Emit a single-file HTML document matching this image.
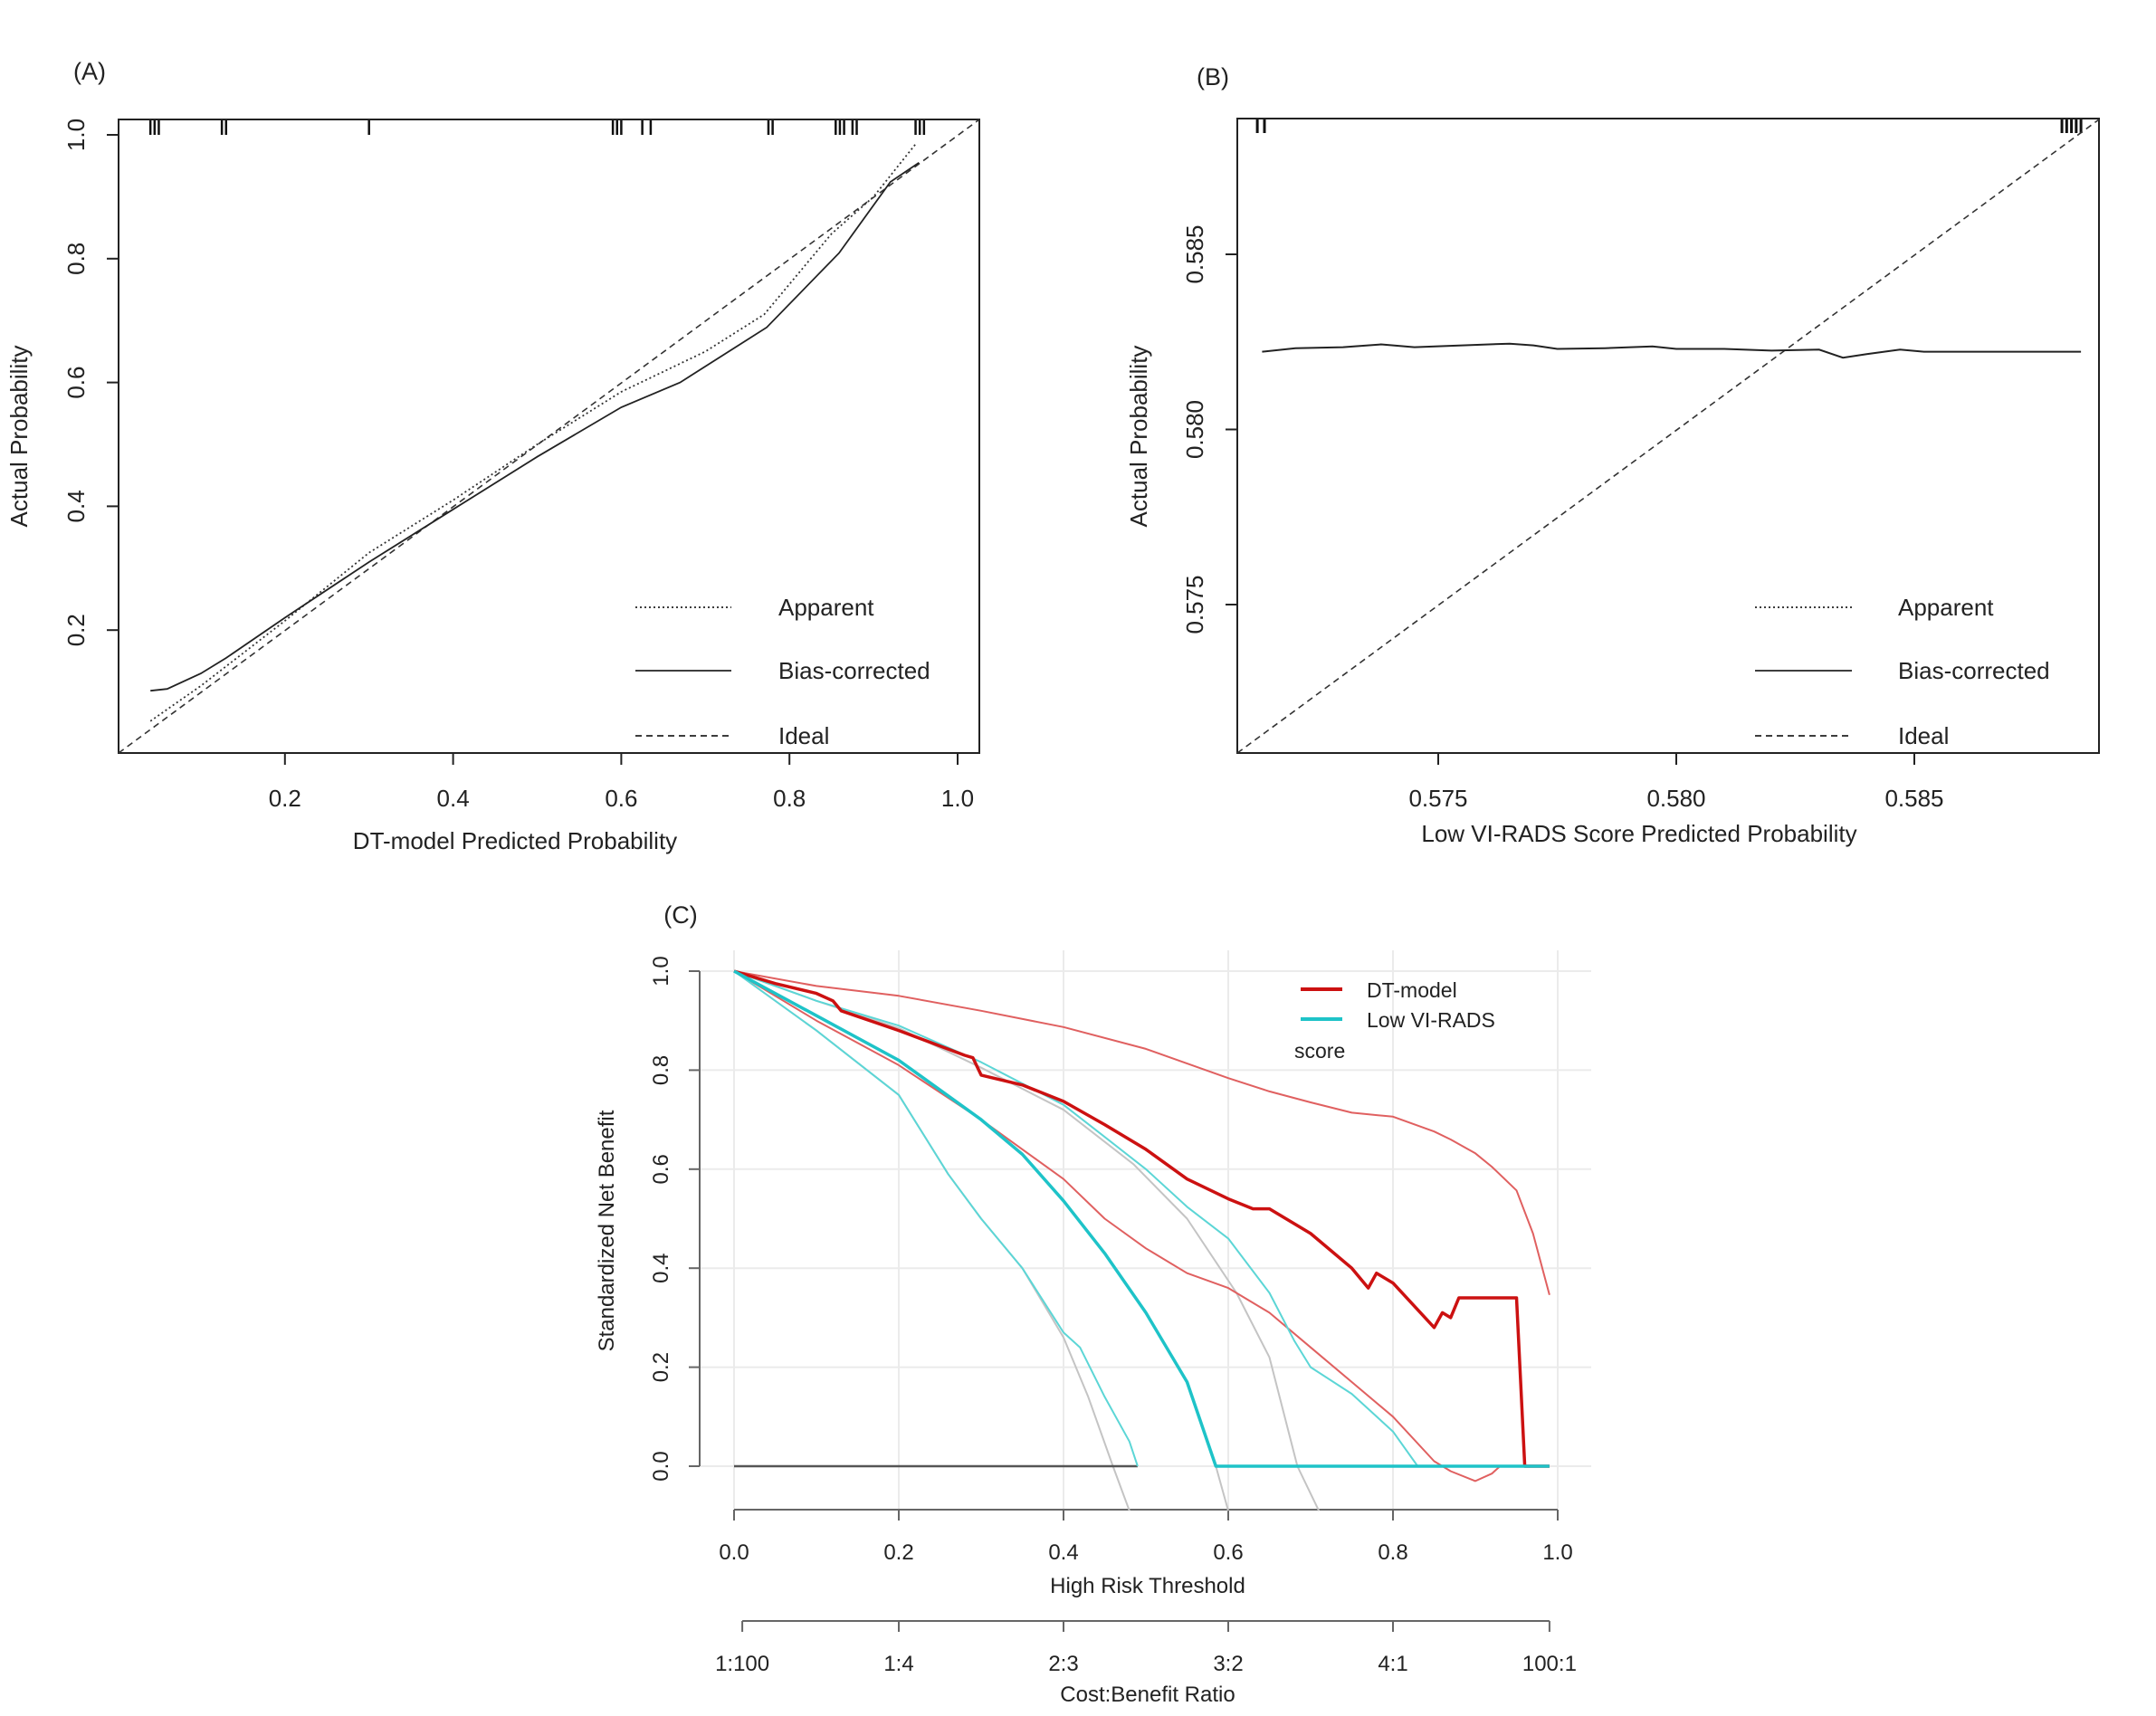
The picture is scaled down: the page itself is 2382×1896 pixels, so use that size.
<!DOCTYPE html>
<html><head><meta charset="utf-8"><style>
html,body{margin:0;padding:0;background:#fff;}
svg{display:block;font-family:"Liberation Sans",Arial,sans-serif;}
</style></head><body>
<svg id="fig" width="2382" height="1896" viewBox="0 0 2382 1896" xmlns="http://www.w3.org/2000/svg"></svg>
<script>
// ---------- Panel A data ----------
const aApparentX = [0.04,0.1,0.2,0.3,0.4,0.5,0.6,0.7,0.77,0.85,0.9,0.95];
const aApparentY = [0.053,0.11,0.215,0.325,0.41,0.5,0.585,0.65,0.71,0.84,0.9,0.985];
const aBiasX = [0.04,0.06,0.1,0.13,0.2,0.3,0.4,0.5,0.6,0.67,0.773,0.859,0.92,0.954];
const aBiasY = [0.102,0.105,0.13,0.155,0.22,0.31,0.395,0.48,0.56,0.6,0.689,0.809,0.924,0.955];
const aRug = [0.04,0.045,0.05,0.125,0.13,0.3,0.59,0.595,0.6,0.625,0.635,0.775,0.78,0.855,0.86,0.865,0.875,0.88,0.95,0.955,0.96];
const aXTicks = [0.2,0.4,0.6,0.8,1.0];
const aYTicks = [0.2,0.4,0.6,0.8,1.0];
// ---------- Panel B data ----------
const bBiasX = [0.5713,0.5720,0.5730,0.5738,0.5745,0.5755,0.5765,0.5770,0.5775,0.5785,0.5795,0.5800,0.5810,0.5820,0.5830,0.5835,0.5840,0.5847,0.5852,0.5885];
const bBiasY = [0.58222,0.58232,0.58235,0.58243,0.58235,0.58240,0.58245,0.58240,0.58230,0.58232,0.58237,0.58230,0.58230,0.58225,0.58228,0.58205,0.58215,0.58228,0.58222,0.58222];
const bRug = [0.5712,0.57135,0.5881,0.5882,0.5883,0.5884,0.5885];
const bXTicks = [0.575,0.580,0.585];
const bYTicks = [0.575,0.580,0.585];
// ---------- Panel C data ----------
const cDTx = [0,0.05,0.1,0.12,0.13,0.2,0.28,0.29,0.3,0.35,0.4,0.45,0.5,0.55,0.6,0.63,0.65,0.7,0.75,0.77,0.78,0.8,0.85,0.86,0.87,0.88,0.95,0.96,0.99];
const cDTy = [1,0.975,0.955,0.94,0.92,0.88,0.83,0.825,0.79,0.77,0.737,0.69,0.64,0.58,0.54,0.52,0.52,0.47,0.40,0.36,0.39,0.37,0.28,0.31,0.30,0.34,0.34,0.0,0.0];
const cDTupX = [0,0.1,0.2,0.3,0.4,0.5,0.6,0.65,0.7,0.75,0.8,0.85,0.87,0.9,0.92,0.95,0.97,0.99];
const cDTupY = [1,0.97,0.95,0.92,0.887,0.843,0.784,0.757,0.735,0.714,0.706,0.676,0.66,0.632,0.605,0.557,0.47,0.346];
const cDTloX = [0,0.1,0.2,0.3,0.35,0.4,0.45,0.5,0.55,0.6,0.65,0.7,0.75,0.8,0.85,0.87,0.9,0.92,0.93];
const cDTloY = [1,0.9,0.81,0.70,0.64,0.58,0.5,0.44,0.39,0.36,0.31,0.24,0.17,0.10,0.01,-0.01,-0.03,-0.015,0];
const cVIx = [0,0.1,0.2,0.3,0.35,0.4,0.45,0.5,0.55,0.585,0.99];
const cVIy = [1,0.91,0.82,0.70,0.63,0.536,0.43,0.31,0.17,0.0,0.0];
const cVIupX = [0,0.1,0.2,0.3,0.35,0.4,0.45,0.5,0.55,0.6,0.65,0.68,0.7,0.75,0.8,0.83];
const cVIupY = [1,0.94,0.89,0.816,0.773,0.73,0.665,0.6,0.524,0.46,0.35,0.254,0.2,0.146,0.07,0.0];
const cVIloX = [0,0.1,0.2,0.26,0.3,0.35,0.4,0.42,0.45,0.48,0.49];
const cVIloY = [1,0.88,0.75,0.59,0.5,0.4,0.27,0.24,0.14,0.05,0];
const cGrayAx = [0,0.1,0.2,0.3,0.4,0.485,0.55,0.61,0.65,0.684,0.71];
const cGrayAy = [1,0.94,0.885,0.805,0.72,0.61,0.5,0.35,0.22,0.0,-0.09];
const cGrayBx = [0,0.1,0.2,0.3,0.35,0.4,0.45,0.5,0.55,0.585,0.6];
const cGrayBy = [1,0.91,0.82,0.70,0.63,0.536,0.43,0.31,0.17,0.0,-0.09];
const cGrayCx = [0,0.1,0.2,0.26,0.3,0.35,0.4,0.43,0.46,0.48];
const cGrayCy = [1,0.88,0.75,0.59,0.5,0.4,0.26,0.14,0.0,-0.09];
const cXTicks = [0,0.2,0.4,0.6,0.8,1.0];
const cYTicks = [0,0.2,0.4,0.6,0.8,1.0];
const cCBticks = [0.01,0.2,0.4,0.6,0.8,0.99];
const cCBlabels = ["1:100","1:4","2:3","3:2","4:1","100:1"];

const NS="http://www.w3.org/2000/svg";
const svg=document.getElementById('fig');
function mk(tag,attrs,parent){const e=document.createElementNS(NS,tag);for(const k in attrs)e.setAttribute(k,attrs[k]);(parent||svg).appendChild(e);return e;}
function lin(d0,d1,r0,r1){return v=>r0+(v-d0)/(d1-d0)*(r1-r0);}
function pathD(xs,ys,sx,sy){return xs.map((x,i)=>(i?'L':'M')+sx(x).toFixed(1)+' '+sy(ys[i]).toFixed(1)).join(' ');}
function txt(s,x,y,size,anchor,rot,parent){const t=mk('text',{x:x,y:y,'font-size':size,'text-anchor':anchor||'middle',fill:'#222'},parent);if(rot)t.setAttribute('transform','rotate(-90 '+x+' '+y+')');t.textContent=s;return t;}

// ================= Panel A =================
const gA=mk('g',{});


const axA=lin(0,1,129,1058), ayA=lin(0,1,833,149);
const boxA=mk('rect',{x:131,y:132,width:951,height:700,fill:'none',stroke:'#222','stroke-width':2},gA);

let t=txt('(A)',99,88,27,'middle',false,gA);

aXTicks.forEach(v=>{const l=mk('line',{x1:axA(v),x2:axA(v),y1:832,y2:845,stroke:'#222','stroke-width':2},gA);

const tt=txt(v.toFixed(1),axA(v),891,26,'middle',false,gA);
});
aYTicks.forEach(v=>{const l=mk('line',{x1:118,x2:131,y1:ayA(v),y2:ayA(v),stroke:'#222','stroke-width':2},gA);

const tt=txt(v.toFixed(1),93,ayA(v),26,'middle',true,gA);
});
t=txt('DT-model Predicted Probability',569,938,26,'middle',false,gA);

t=txt('Actual Probability',30,482,26,'middle',true,gA);

aRug.forEach(v=>{const l=mk('line',{x1:axA(v),x2:axA(v),y1:133,y2:149,stroke:'#111','stroke-width':2.5},gA);
});
let p=mk('line',{x1:131,y1:832,x2:1082,y2:132,stroke:'#333','stroke-width':1.6,'stroke-dasharray':'7,5'},gA);

p=mk('path',{d:pathD(aApparentX,aApparentY,axA,ayA),fill:'none',stroke:'#333','stroke-width':1.8,'stroke-dasharray':'2,3'},gA);

p=mk('path',{d:pathD(aBiasX,aBiasY,axA,ayA),fill:'none',stroke:'#222','stroke-width':1.8},gA);

function calLegend(g,x0,x1,xt,ys,tag){
 const names=['Apparent','Bias-corrected','Ideal'],dash=['2,3','none','7,5'];
 names.forEach((n,i)=>{const l=mk('line',{x1:x0,x2:x1,y1:ys[i],y2:ys[i],stroke:'#222','stroke-width':1.8,'stroke-dasharray':dash[i]},g);
 
 const tt=txt(n,xt,ys[i]+9,26,'start',false,g);
 });
}
calLegend(gA,702,808,860,[671,741,813],'a');

// ================= Panel B =================
const gB=mk('g',{});


const axB=lin(0.575,0.585,1589,2115), ayB=lin(0.575,0.585,668,281);
const boxB=mk('rect',{x:1367,y:131,width:952,height:701,fill:'none',stroke:'#222','stroke-width':2},gB);

t=txt('(B)',1340,94,27,'middle',false,gB);

bXTicks.forEach(v=>{const l=mk('line',{x1:axB(v),x2:axB(v),y1:832,y2:845,stroke:'#222','stroke-width':2},gB);

const tt=txt(v.toFixed(3),axB(v),891,26,'middle',false,gB);
});
bYTicks.forEach(v=>{const l=mk('line',{x1:1354,x2:1367,y1:ayB(v),y2:ayB(v),stroke:'#222','stroke-width':2},gB);

const tt=txt(v.toFixed(3),1329,ayB(v),26,'middle',true,gB);
});
t=txt('Low VI-RADS Score Predicted Probability',1811,930,26,'middle',false,gB);

t=txt('Actual Probability',1267,482,26,'middle',true,gB);

bRug.forEach(v=>{const l=mk('line',{x1:axB(v),x2:axB(v),y1:132,y2:147,stroke:'#111','stroke-width':3},gB);
});
p=mk('line',{x1:1367,y1:832,x2:2319,y2:132,stroke:'#333','stroke-width':1.6,'stroke-dasharray':'7,5'},gB);

p=mk('path',{d:pathD(bBiasX,bBiasY,axB,ayB),fill:'none',stroke:'#222','stroke-width':2},gB);

calLegend(gB,1939,2046,2097,[671,741,813],'b');

// ================= Panel C =================
const gC=mk('g',{});


const axC=lin(0,1,811,1721), ayC=lin(0,1,1620,1073);
t=txt('(C)',752,1020,27,'middle',false,gC);

cYTicks.forEach(v=>{const g=mk('line',{x1:772,x2:1758,y1:ayC(v),y2:ayC(v),stroke:'#ebebeb','stroke-width':2},gC);
});
cXTicks.forEach(v=>{const g=mk('line',{x1:axC(v),x2:axC(v),y1:1050,y2:1667,stroke:'#ebebeb','stroke-width':2},gC);
});
let ya=mk('line',{x1:773,x2:773,y1:ayC(1),y2:ayC(0),stroke:'#666','stroke-width':2},gC);

cYTicks.forEach(v=>{const l=mk('line',{x1:761,x2:773,y1:ayC(v),y2:ayC(v),stroke:'#666','stroke-width':2},gC);

const tt=txt(v.toFixed(1),738,ayC(v),24,'middle',true,gC);
});
t=txt('Standardized Net Benefit',678,1360,24,'middle',true,gC);

let xa=mk('line',{x1:axC(0),x2:axC(1),y1:1668,y2:1668,stroke:'#666','stroke-width':2},gC);

cXTicks.forEach(v=>{const l=mk('line',{x1:axC(v),x2:axC(v),y1:1668,y2:1680,stroke:'#666','stroke-width':2},gC);

const tt=txt(v.toFixed(1),axC(v),1723,24,'middle',false,gC);
});
t=txt('High Risk Threshold',1268,1760,24,'middle',false,gC);

let cba=mk('line',{x1:axC(cCBticks[0]),x2:axC(cCBticks[5]),y1:1791,y2:1791,stroke:'#666','stroke-width':2},gC);

cCBticks.forEach((v,i)=>{const l=mk('line',{x1:axC(v),x2:axC(v),y1:1791,y2:1803,stroke:'#666','stroke-width':2},gC);

const tt=txt(cCBlabels[i],axC(v),1846,24,'middle',false,gC);
});
t=txt('Cost:Benefit Ratio',1268,1880,24,'middle',false,gC);

function curve(xs,ys,col,w,name){const e=mk('path',{d:pathD(xs,ys,axC,ayC),fill:'none',stroke:col,'stroke-width':w,'stroke-linejoin':'round'},gC);
}
curve(cGrayAx,cGrayAy,'#c4c4c4',2,'treat-all-curve-1');
curve(cGrayBx,cGrayBy,'#c4c4c4',2,'treat-all-curve-2');
curve(cGrayCx,cGrayCy,'#c4c4c4',2,'treat-all-curve-3');
const none=mk('line',{x1:axC(0),x2:axC(0.49),y1:ayC(0),y2:ayC(0),stroke:'#555','stroke-width':2.5},gC);

curve(cDTupX,cDTupY,'#e06060',2,'dt-model-upper-ci');
curve(cDTloX,cDTloY,'#e06060',2,'dt-model-lower-ci');
curve(cVIupX,cVIupY,'#5cd6d6',2,'low-vi-rads-upper-ci');
curve(cVIloX,cVIloY,'#5cd6d6',2,'low-vi-rads-lower-ci');
curve(cDTx,cDTy,'#cc1111',3.5,'dt-model-curve');
curve(cVIx,cVIy,'#1ec3c8',3.5,'low-vi-rads-curve');
let l=mk('line',{x1:1437,x2:1483,y1:1093,y2:1093,stroke:'#cc1111','stroke-width':4},gC);

t=txt('DT-model',1510,1102,23,'start',false,gC);

l=mk('line',{x1:1437,x2:1483,y1:1126,y2:1126,stroke:'#1ec3c8','stroke-width':4},gC);

t=txt('Low VI-RADS',1510,1135,23,'start',false,gC);

t=txt('score',1430,1169,23,'start',false,gC);

</script>
</body></html>
